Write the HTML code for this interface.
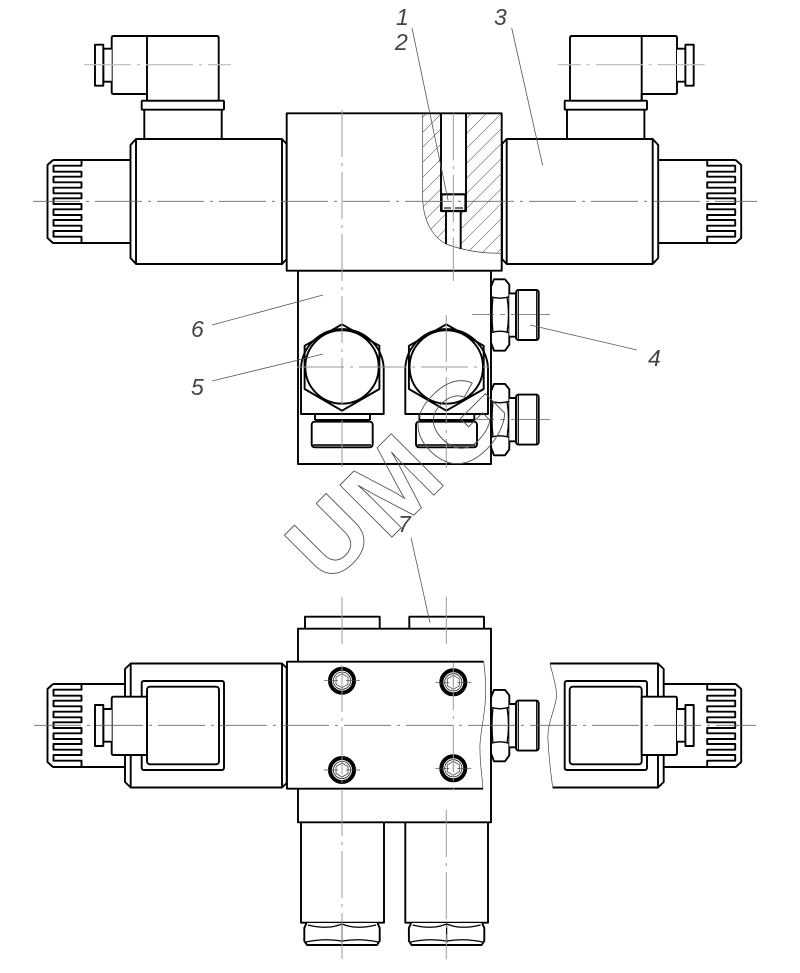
<!DOCTYPE html>
<html><head><meta charset="utf-8"><style>
html,body{margin:0;padding:0;background:#fff}
svg{display:block}
.m{fill:none;stroke:#000;stroke-width:1.9;stroke-linejoin:round}
.w{fill:#fff;stroke:#000;stroke-width:1.9;stroke-linejoin:round}
.t{fill:none;stroke:#444;stroke-width:.7}
.c{fill:none;stroke:#666;stroke-width:.9;stroke-dasharray:47 6 3 6}
.v{fill:none;stroke:#999;stroke-width:1;stroke-dasharray:47 6 3 6}
.l{fill:none;stroke:#bbb;stroke-width:1.2;stroke-dasharray:47 6 3 6}
.n{font:italic 23px "Liberation Sans",sans-serif;fill:#444}
.u{font-family:"Liberation Sans",sans-serif;font-weight:bold;fill:none;stroke:#555;stroke-width:.9}
</style></head><body>
<svg xmlns="http://www.w3.org/2000/svg" width="800" height="973" viewBox="0 0 800 973">
<defs>
<pattern id="h" width="10.6" height="10.6" patternUnits="userSpaceOnUse" patternTransform="rotate(45)">
<line x1="0" y1="0" x2="0" y2="10.6" stroke="#444" stroke-width=".9"/>
</pattern>
<g id="knob">
<path class="m" d="M81.5 160V165.7H53.5V171.7H81.5V176.7H53.5V182.3H81.5V187.7H53.5V193.3H81.5V198.3H53.5V204H81.5V209.3H53.5V215H81.5V220H53.5V225.7H81.5V231H53.5V236.7H81.5V243"/>
<path class="m" d="M53 160L47.5 165V238L53 243H81.5"/>
</g>
<g id="solTop">
<use href="#knob"/>
<path class="m" d="M53 160H130M53 243H130"/>
<path class="w" d="M136 139H282L286.7 144V259L282 264H136L130.5 258V145Z"/>
<path class="m" d="M136 139V264M282 139V264"/>
<path class="w" d="M144.3 109.7V139M221.7 109.7V139"/>
<rect class="w" x="141.7" y="100.7" width="82.3" height="9" rx="1"/>
<path class="w" d="M147 94H113.5Q111.7 94 111.7 92V38Q111.7 36 113.5 36H216.7Q218.7 36 218.7 38V100.7H147Z"/>
<path class="m" d="M147 36V100.7"/>
<path class="w" d="M111.7 48.7H103.3V81.7H111.7"/>
<rect class="w" x="95" y="44.7" width="8.3" height="41"/>
<path class="l" d="M84 64.7H231"/>
</g>
<g id="solPlan">
<use href="#knob" transform="translate(0 524)"/>
<path class="m" d="M53 684H125M53 767H125"/>
<rect class="w" x="141.7" y="681" width="82.3" height="89" rx="2"/>
<rect class="w" x="147" y="686.7" width="72" height="77.6" rx="3"/>
<path class="w" d="M147 696.7H113.5Q111.7 696.7 111.7 698.7V753Q111.7 755 113.5 755H147Z"/>
<path class="w" d="M111.7 709H103.3V741.7H111.7"/>
<rect class="w" x="95" y="705" width="8.3" height="41"/>
</g>
<g id="port">
<path class="w" d="M301 414V367A41.5 41.5 0 0 1 383.7 367V414Z"/>
<path class="m" d="M342 324.3L379.4 345.8V389L342 410.7L304.6 389V345.8Z"/>
<circle class="m" cx="342" cy="367" r="36.7"/>
<path class="m" d="M315 414V420M370 414V420M315 420H370"/>
<rect class="w" x="311.7" y="421.7" width="61" height="25.6" rx="3"/>
<path d="M313 445H371" stroke="#333" stroke-width="2"/>
</g>
<g id="side">
<path class="w" d="M491 -28L494 -35.4H505L509.3 -30V30L505 36H494L491 28Z"/>
<path class="m" d="M491 -18Q500 -15 509 -18M491 18Q500 15 509 18M493 -18Q491 0 493 18M507 -18Q510 0 507 18" style="stroke-width:1.3"/>
<path class="w" d="M509.3 -21.3H516V22H509.3"/>
<rect class="w" x="516" y="-24.7" width="22.7" height="50" rx="2.5"/>
<path class="m" d="M518.3 -24.7V25M536.7 -24.7V25" style="stroke-width:1.2"/>
</g>
<g id="bolt">
<circle cx="0" cy="0" r="12" fill="#fff" stroke="#000" stroke-width="4"/>
<circle cx="0" cy="0" r="8.6" fill="none" stroke="#222" stroke-width=".8"/>
<path d="M0 -7L6 -3.5V3.5L0 7L-6 3.5V-3.5Z" fill="none" stroke="#444" stroke-width=".8"/>
<path class="t" d="M-18 0H-4M4 0H18M0 -4V4"/>
</g>
<g id="nutB">
<path class="w" d="M306.5 923L304.3 928V941L307 945H377L379.7 941V928L377.5 923"/>
<path class="m" d="M306 942Q324 938 342 941Q360 938 378 942M342 925V943M308 925Q324 929 336 926L342 924L348 926Q360 929 376 925" style="stroke-width:1.2"/>
</g>
</defs>

<!-- top view -->
<use href="#solTop"/>
<use href="#solTop" transform="matrix(-1 0 0 1 788.7 0)"/>
<rect class="w" x="298" y="270.7" width="193" height="193.3"/>
<rect class="w" x="286.7" y="113.3" width="215" height="157.4"/>
<path fill="url(#h)" d="M422.7 113.3H441V211H446V244C435 238 424 225 422.7 200Z"/>
<path fill="url(#h)" d="M466 113.3H501.7V253.3C485 253.5 472 252 460.7 249V211H466Z"/>
<path class="t" d="M422.7 113.3V200C424 225 435 238 446 244C462 250 480 253.5 501.7 253.3"/>
<path class="m" d="M441 113.3V211H466V113.3"/>
<rect class="m" x="441.5" y="194.3" width="24" height="16.7" style="stroke-width:2.2"/>
<path class="m" d="M446 211V244M460.7 211V249"/>
<path class="t" d="M444 208H451M455 208H463" style="stroke-width:1.4"/>

<use href="#port"/>
<use href="#port" transform="translate(104.3 0)"/>
<use href="#side" transform="translate(0 314.7)"/>
<use href="#side" transform="translate(0 419.3)"/>

<!-- plan view -->
<rect class="w" x="305" y="616.7" width="74.7" height="14"/>
<rect class="w" x="409.3" y="616.7" width="74.7" height="14"/>
<rect class="w" x="298" y="628.7" width="193" height="193.6"/>
<path class="m" d="M301 822.3V922.7H384V822.3M405.3 822.3V922.7H488V822.3"/>
<use href="#nutB"/>
<use href="#nutB" transform="translate(104.6 0)"/>
<use href="#side" transform="translate(0 725.3)"/>

<path class="w" d="M130.7 663.5H282L286.7 668V783L282 787.5H130.7L125 782V669Z"/>
<path class="m" d="M130.7 663.5V787.5M282 663.5V787.5"/>
<use href="#solPlan"/>
<path fill="#fff" d="M550 663.5H658L663.7 669V782L658 787.5H552.7Q546 740 548 722Q558 690 550 663.5Z"/>
<path class="m" d="M550 663.5H658L663.7 669V782L658 787.5H552.7M658 663.5V787.5"/>
<path class="t" d="M550 663.5C554 680 558 692 556 700C553 715 547 725 548 740C549 760 551 775 552.7 787.5"/>
<use href="#solPlan" transform="matrix(-1 0 0 1 788.7 0)"/>

<path fill="#fff" d="M287 661.7H483.3L486 700L480 750L483 788.7H287Z"/>
<path class="m" d="M483.7 661.7H287V788.7H483"/>
<path class="t" d="M483.7 661.7C486 680 486 690 485 705C483 725 479 740 480 750C480 765 482 775 483 788.7"/>
<use href="#bolt" transform="translate(342 680.7)"/>
<use href="#bolt" transform="translate(453.3 682.3)"/>
<use href="#bolt" transform="translate(342 770)"/>
<use href="#bolt" transform="translate(453.3 768.3)"/>

<!-- centre lines -->
<path class="c" d="M33 201.3H757"/>
<path class="c" d="M34 725.3H756"/>
<path class="v" d="M342 110V468"/>
<path class="v" d="M453.3 113.3V281"/>
<path class="v" d="M446.3 315V468"/>
<path class="v" d="M297 367H490"/>
<path class="t" d="M472 314.7H494M500 314.7H505M511 314.7H550"/>
<path class="t" d="M476.7 419.3H494M500 419.3H505M511 419.3H550"/>
<path class="v" d="M342 597V646.7"/>
<path class="v" d="M446.3 597V646.7"/>
<path class="v" d="M342 665V959"/>
<path class="v" d="M453.3 663V790"/>
<path class="v" d="M446.3 810V959"/>

<!-- leaders -->
<g fill="none" stroke="#555" stroke-width=".8">
<path d="M412 28L448 200"/>
<path d="M511.7 28L542.7 165.7"/>
<path d="M530 325L637 350"/>
<path d="M212 381L323 354"/>
<path d="M212 325L323 295"/>
<path d="M411 537.7L430 622.7"/>
</g>
<text class="n" x="396" y="25">1</text>
<text class="n" x="395" y="50">2</text>
<text class="n" x="494" y="25">3</text>
<text class="n" x="648" y="366">4</text>
<text class="n" x="191" y="395">5</text>
<text class="n" x="191" y="337">6</text>
<text class="n" x="398" y="532">7</text>

<!-- watermark -->
<text class="u" transform="translate(328 587) rotate(-45)" font-size="98">U</text>
<text class="u" transform="translate(387 542) rotate(-45) scale(.97 1)" font-size="107">M</text>
<text class="u" transform="translate(453.5 481) rotate(-45) scale(1.09 1)" font-size="108">G</text>
</svg>
</body></html>
